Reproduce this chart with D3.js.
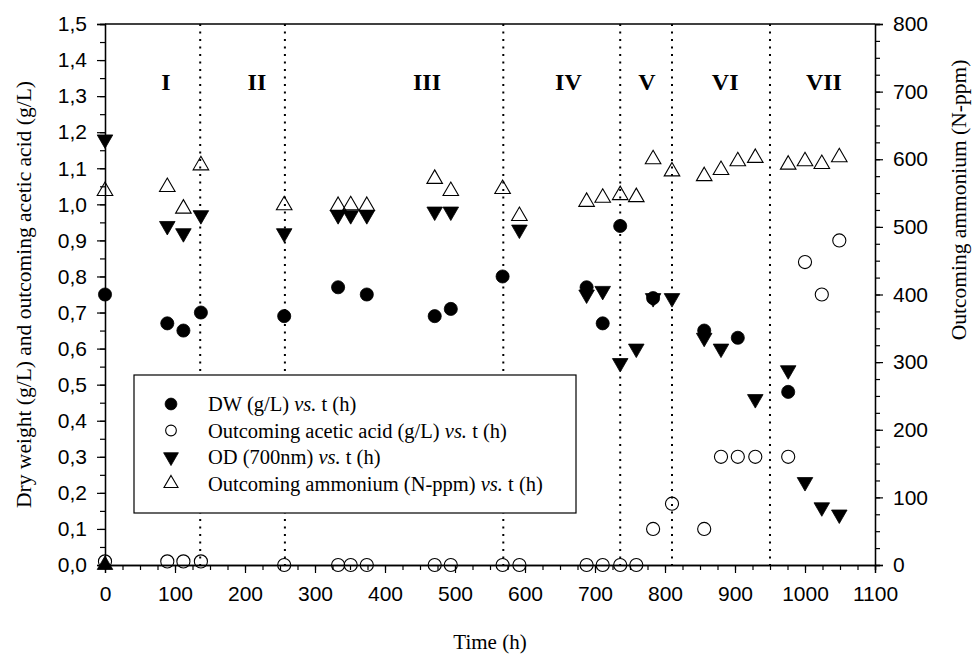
<!DOCTYPE html>
<html>
<head>
<meta charset="utf-8">
<script src="https://cdn.jsdelivr.net/npm/d3@7"></script>
<style>
  body { margin: 0; background: #fff; }
  svg { display: block; }
</style>
</head>
<body>
<svg id="chart" width="976" height="654"></svg>
<script>
// Sampling times (h) and measured values for each series
const dwTime = [0, 89, 112, 137, 256, 333, 374, 471, 494, 568, 688, 711, 736, 783, 856, 904, 976];
const dwValue = [0.75, 0.67, 0.65, 0.70, 0.69, 0.77, 0.75, 0.69, 0.71, 0.80, 0.77, 0.67, 0.94, 0.74, 0.65, 0.63, 0.48];

const acidTime = [0, 89, 112, 137, 256, 333, 351, 374, 471, 494, 568, 592, 688, 711, 736, 759, 783, 810, 856, 880, 904, 929, 976, 1000, 1024, 1049];
const acidValue = [0.01, 0.01, 0.01, 0.01, 0, 0, 0, 0, 0, 0, 0, 0, 0, 0, 0, 0, 0.10, 0.17, 0.10, 0.30, 0.30, 0.30, 0.30, 0.84, 0.75, 0.90];

const odTime = [0, 89, 112, 137, 256, 333, 351, 374, 471, 494, 592, 688, 711, 736, 759, 783, 810, 856, 880, 929, 976, 1000, 1024, 1049];
const odValue = [1.18, 0.94, 0.92, 0.97, 0.92, 0.97, 0.97, 0.97, 0.98, 0.98, 0.93, 0.75, 0.76, 0.56, 0.60, 0.74, 0.74, 0.63, 0.60, 0.46, 0.54, 0.23, 0.16, 0.14];

const ammoniumTime = [0, 89, 112, 137, 256, 333, 351, 374, 471, 494, 568, 592, 688, 711, 736, 759, 783, 810, 856, 880, 904, 929, 976, 1000, 1024, 1049];
const ammoniumValue = [553, 559, 527, 591, 532, 531, 532, 531, 571, 553, 556, 516, 537, 543, 547, 544, 600, 582, 575, 584, 597, 602, 592, 597, 593, 603];

// Filled marker sitting at the origin
const originTime = [0];
const originValue = [0];

// Phase boundaries (h) and phase names with their label positions (h)
const phaseBounds = [136, 257, 569, 736, 810, 950];
const phaseNames = ["I", "II", "III", "IV", "V", "VI", "VII"];
const phaseLabelTime = [87, 217, 460, 662, 774, 886, 1027];

// Axis ticks
const xTicks = [0, 100, 200, 300, 400, 500, 600, 700, 800, 900, 1000, 1100];
const leftTicks = [0, 0.1, 0.2, 0.3, 0.4, 0.5, 0.6, 0.7, 0.8, 0.9, 1.0, 1.1, 1.2, 1.3, 1.4, 1.5];
const rightTicks = [0, 100, 200, 300, 400, 500, 600, 700, 800];

const legendLabels = [
  ["DW (g/L) ", "vs.", " t (h)"],
  ["Outcoming acetic acid (g/L) ", "vs.", " t (h)"],
  ["OD (700nm) ", "vs.", " t (h)"],
  ["Outcoming ammonium (N-ppm) ", "vs.", " t (h)"]
];

const SERIF = "'Liberation Serif','Times New Roman',serif";
const SANS = "'Liberation Sans',Arial,sans-serif";

const plot = { left: 105, right: 875, top: 24, bottom: 565 };

const x = d3.scaleLinear().domain([0, 1100]).range([plot.left, plot.right]);
const yL = d3.scaleLinear().domain([0, 1.5]).range([plot.bottom, plot.top]);
const yR = d3.scaleLinear().domain([0, 800]).range([plot.bottom, plot.top]);

const svg = d3.select("#chart");

// Phase boundary lines
svg.append("g").selectAll("line").data(phaseBounds).join("line")
  .attr("x1", d => x(d)).attr("x2", d => x(d))
  .attr("y1", plot.top).attr("y2", plot.bottom)
  .attr("stroke", "#000").attr("stroke-width", 2)
  .attr("stroke-dasharray", "2,5.5");

// Axes: minor ticks first, then major ticks with labels
function styleAxis(g) {
  g.selectAll("path.domain").attr("stroke", "#000").attr("stroke-width", 1.3);
  g.selectAll(".tick line").attr("stroke", "#000").attr("stroke-width", 1.2);
  g.selectAll("text").attr("font-family", SANS).attr("font-size", 21).attr("fill", "#000");
}

const commaFmt = d => d3.format(".1f")(d).replace(".", ",");
const intFmt = d3.format("d");

// bottom
svg.append("g").attr("transform", `translate(0,${plot.bottom})`)
  .call(d3.axisBottom(x).tickValues(d3.range(0, 1101, 25)).tickSize(5).tickFormat(""))
  .call(styleAxis);
svg.append("g").attr("transform", `translate(0,${plot.bottom})`)
  .call(d3.axisBottom(x).tickValues(xTicks).tickSize(8).tickPadding(13).tickFormat(intFmt))
  .call(styleAxis);

// left
svg.append("g").attr("transform", `translate(${plot.left},0)`)
  .call(d3.axisLeft(yL).tickValues(d3.range(0, 31).map(i => i * 0.05)).tickSize(5).tickFormat(""))
  .call(styleAxis);
svg.append("g").attr("transform", `translate(${plot.left},0)`)
  .call(d3.axisLeft(yL).tickValues(leftTicks).tickSize(8).tickPadding(10).tickFormat(commaFmt))
  .call(styleAxis);

// right
svg.append("g").attr("transform", `translate(${plot.right},0)`)
  .call(d3.axisRight(yR).tickValues(d3.range(0, 801, 25)).tickSize(5).tickFormat(""))
  .call(styleAxis);
svg.append("g").attr("transform", `translate(${plot.right},0)`)
  .call(d3.axisRight(yR).tickValues(rightTicks).tickSize(8).tickPadding(10).tickFormat(intFmt))
  .call(styleAxis);

// top frame line
svg.append("line")
  .attr("x1", plot.left).attr("x2", plot.right)
  .attr("y1", plot.top).attr("y2", plot.top)
  .attr("stroke", "#000").attr("stroke-width", 1.3);

// Legend box (opaque, hides the boundary lines behind it)
const legend = svg.append("g");
legend.append("rect")
  .attr("x", 134).attr("y", 375).attr("width", 442).attr("height", 138)
  .attr("fill", "#fff").attr("stroke", "#000").attr("stroke-width", 1.2);

// Marker shapes
const circleSym = d3.symbol().type(d3.symbolCircle).size(135);
const triSym = d3.symbol().type(d3.symbolTriangle).size(105);

function drawSeries(times, values, yScale, kind) {
  const g = svg.append("g");
  const pts = times.map((t, i) => [t, values[i]]);
  const sel = g.selectAll("path").data(pts).join("path")
    .attr("d", kind.startsWith("circle") ? circleSym() : triSym())
    .attr("transform", d => `translate(${x(d[0])},${yScale(d[1])})` + (kind === "triDown" ? " rotate(180)" : ""));
  if (kind === "circleFilled" || kind === "triDown" || kind === "triFilled") {
    sel.attr("fill", "#000").attr("stroke", "#000").attr("stroke-width", 0.8);
  } else {
    sel.attr("fill", "none").attr("stroke", "#000").attr("stroke-width", 1.1);
  }
}

drawSeries(dwTime, dwValue, yL, "circleFilled");
drawSeries(odTime, odValue, yL, "triDown");
drawSeries(acidTime, acidValue, yL, "circleOpen");
drawSeries(ammoniumTime, ammoniumValue, yR, "triOpen");
drawSeries(originTime, originValue, yL, "triFilled");

// Legend entries
const legendKinds = ["circleFilled", "circleOpen", "triDown", "triOpen"];
const rowY = [404, 430.5, 457, 483.5];
const legendMarker = { circleFilled: d3.symbol().type(d3.symbolCircle).size(110), circleOpen: d3.symbol().type(d3.symbolCircle).size(90),
  triDown: d3.symbol().type(d3.symbolTriangle).size(95), triOpen: d3.symbol().type(d3.symbolTriangle).size(85) };
legendKinds.forEach((k, i) => {
  const p = legend.append("path")
    .attr("d", legendMarker[k]())
    .attr("transform", `translate(171,${rowY[i]})` + (k === "triDown" ? " rotate(180)" : ""));
  if (k === "circleFilled" || k === "triDown") p.attr("fill", "#000").attr("stroke", "#000").attr("stroke-width", 0.8);
  else p.attr("fill", "none").attr("stroke", "#000").attr("stroke-width", 1.1);
  const t = legend.append("text")
    .attr("x", 208).attr("y", rowY[i]).attr("dy", "0.35em")
    .attr("font-family", SERIF).attr("font-size", 20.5).attr("fill", "#000");
  t.append("tspan").text(legendLabels[i][0]);
  t.append("tspan").attr("font-style", "italic").text(legendLabels[i][1]);
  t.append("tspan").text(legendLabels[i][2]);
});

// Phase names
svg.append("g").selectAll("text").data(phaseNames).join("text")
  .attr("x", (d, i) => x(phaseLabelTime[i]))
  .attr("y", 90)
  .attr("text-anchor", "middle")
  .attr("font-family", SERIF).attr("font-weight", "bold").attr("font-size", 24)
  .text(d => d);

// Axis titles
svg.append("text")
  .attr("transform", `translate(31,${(plot.top + plot.bottom) / 2}) rotate(-90)`)
  .attr("text-anchor", "middle")
  .attr("font-family", SERIF).attr("font-size", 21.5)
  .text("Dry weight (g/L) and outcoming acetic acid (g/L)");

svg.append("text")
  .attr("transform", `translate(966,200) rotate(-90)`)
  .attr("text-anchor", "middle")
  .attr("font-family", SERIF).attr("font-size", 21.5)
  .text("Outcoming ammonium (N-ppm)");

svg.append("text")
  .attr("x", (plot.left + plot.right) / 2).attr("y", 649)
  .attr("text-anchor", "middle")
  .attr("font-family", SERIF).attr("font-size", 21)
  .text("Time (h)");
</script>
</body>
</html>
